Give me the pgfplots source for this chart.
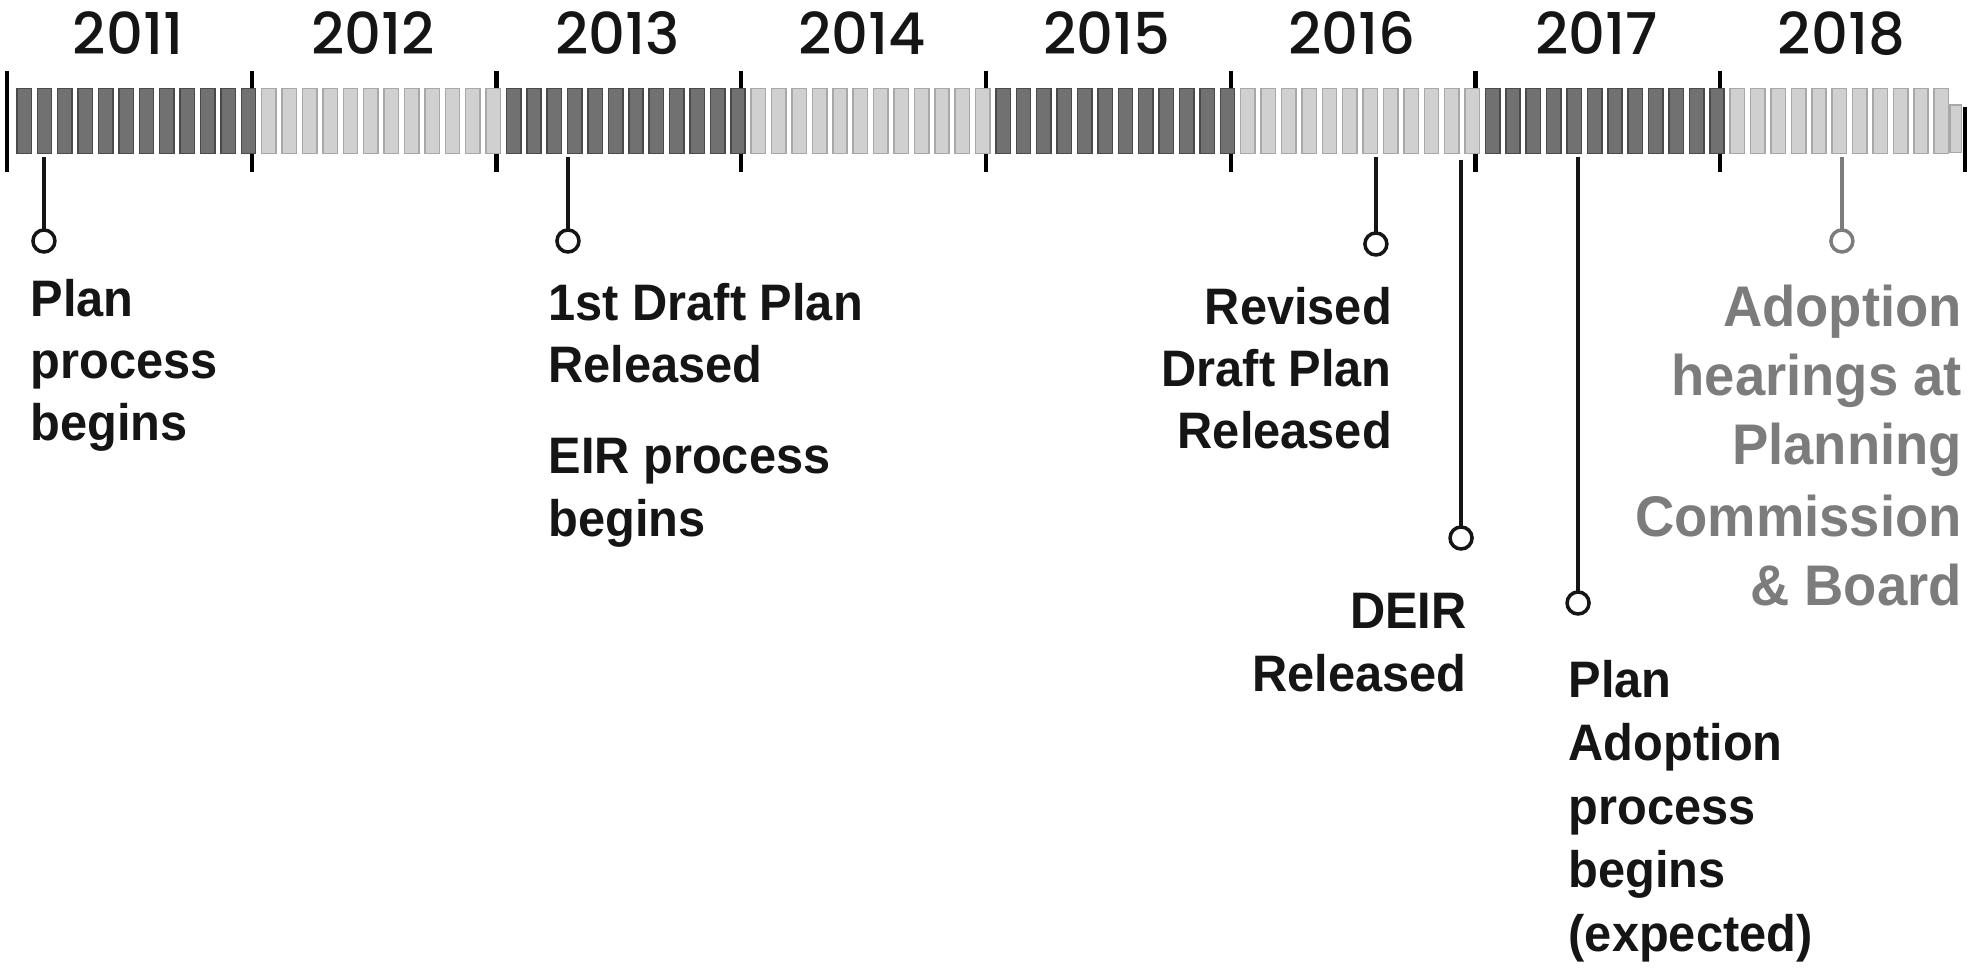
\documentclass[border=0pt]{standalone}
\usepackage{pgfplots}
\pgfplotsset{compat=1.18}
\usepackage{fontspec}
\setmainfont{Liberation Sans}
\newfontfamily\labfont{Liberation Sans}[FakeStretch=0.95]
\IfFontExistsTF{Poppins Medium}{%
  \newfontfamily\yearfont{Poppins Medium}}{%
  \newfontfamily\yearfont{Poppins}[FakeBold=1.0]}
\definecolor{darkbar}{HTML}{717171}
\definecolor{darkedge}{HTML}{4A4A4A}
\definecolor{lightbar}{HTML}{D0D0D0}
\definecolor{lightedge}{HTML}{A8A8A8}
\definecolor{txt}{HTML}{151515}
\definecolor{graytxt}{HTML}{7C7C7C}
\newcommand\lab{\labfont\bfseries\fontsize{14.6}{17}\selectfont}
\newcommand\labbig{\labfont\bfseries\fontsize{16.3}{19}\selectfont}
\newcommand\yr{\yearfont\fontsize{16.4}{18}\selectfont}
\begin{document}
\begin{tikzpicture}
\begin{axis}[
  scale only axis, width=19.86cm, height=9.73cm,
  xmin=2010.9714, xmax=2019.0858,
  ymin=0, ymax=973, y dir=reverse,
  hide axis, clip=false, unbounded coords=jump,
]
% dark months (2011, 2013, 2015, 2017)
\addplot[only marks, mark=square*, mark size=0.72mm,
  mark options={fill=darkbar, draw=darkedge, line width=0.15mm, yscale=4.5}]
coordinates {
(2011.0700,121) (2011.1533,121) (2011.2367,121) (2011.3200,121) (2011.4033,121) (2011.4867,121)
(2011.5700,121) (2011.6533,121) (2011.7367,121) (2011.8200,121) (2011.9033,121) (2011.9867,121)
(2013.0700,121) (2013.1533,121) (2013.2367,121) (2013.3200,121) (2013.4033,121) (2013.4867,121)
(2013.5700,121) (2013.6533,121) (2013.7367,121) (2013.8200,121) (2013.9033,121) (2013.9867,121)
(2015.0700,121) (2015.1533,121) (2015.2367,121) (2015.3200,121) (2015.4033,121) (2015.4867,121)
(2015.5700,121) (2015.6533,121) (2015.7367,121) (2015.8200,121) (2015.9033,121) (2015.9867,121)
(2017.0700,121) (2017.1533,121) (2017.2367,121) (2017.3200,121) (2017.4033,121) (2017.4867,121)
(2017.5700,121) (2017.6533,121) (2017.7367,121) (2017.8200,121) (2017.9033,121) (2017.9867,121)
};
% light months (2012, 2014, 2016, 2018)
\addplot[only marks, mark=square*, mark size=0.72mm,
  mark options={fill=lightbar, draw=lightedge, line width=0.15mm, yscale=4.5}]
coordinates {
(2012.0700,121) (2012.1533,121) (2012.2367,121) (2012.3200,121) (2012.4033,121) (2012.4867,121)
(2012.5700,121) (2012.6533,121) (2012.7367,121) (2012.8200,121) (2012.9033,121) (2012.9867,121)
(2014.0700,121) (2014.1533,121) (2014.2367,121) (2014.3200,121) (2014.4033,121) (2014.4867,121)
(2014.5700,121) (2014.6533,121) (2014.7367,121) (2014.8200,121) (2014.9033,121) (2014.9867,121)
(2016.0700,121) (2016.1533,121) (2016.2367,121) (2016.3200,121) (2016.4033,121) (2016.4867,121)
(2016.5700,121) (2016.6533,121) (2016.7367,121) (2016.8200,121) (2016.9033,121) (2016.9867,121)
(2018.0700,121) (2018.1533,121) (2018.2367,121) (2018.3200,121) (2018.4033,121) (2018.4867,121)
(2018.5700,121) (2018.6533,121) (2018.7367,121) (2018.8200,121) (2018.9033,121)
};
\addplot[only marks, mark=square*, mark size=0.72mm,
  mark options={fill=lightbar, draw=lightedge, line width=0.15mm, yscale=3.3, xscale=0.8}]
coordinates {(2018.962,129)};
% year boundaries
\addplot[black, line width=0.42mm] coordinates {
(2011,71) (2011,172) (2011,nan)
(2012,71) (2012,172) (2012,nan)
(2013,71) (2013,172) (2013,nan)
(2014,71) (2014,172) (2014,nan)
(2015,71) (2015,172) (2015,nan)
(2016,71) (2016,172) (2016,nan)
(2017,71) (2017,172) (2017,nan)
(2018,71) (2018,172) (2018,nan)
(2019,107) (2019,172)
};
% stems
\addplot[txt, line width=0.35mm] coordinates {
(2011.151,157) (2011.151,230) (2011.151,nan)
(2013.292,157) (2013.292,230) (2013.292,nan)
(2016.593,157) (2016.593,233) (2016.593,nan)
(2016.941,160) (2016.941,527) (2016.941,nan)
(2017.419,157) (2017.419,592)
};
\addplot[graytxt, line width=0.35mm] coordinates {(2018.497,157) (2018.497,230)};
% circles
\addplot[only marks, mark=*, mark size=1.1mm,
  mark options={fill=white, draw=txt, line width=0.35mm}]
coordinates {(2011.151,241) (2013.292,241) (2016.593,244) (2016.941,538) (2017.419,603)};
\addplot[only marks, mark=*, mark size=1.1mm,
  mark options={fill=white, draw=graytxt, line width=0.35mm}]
coordinates {(2018.497,241)};
% year labels
\foreach \y in {2011,...,2018}{
  \edef\tmp{\noexpand\node[anchor=base, inner sep=0, font=\noexpand\yr, text=txt] at (axis cs:\y.495,55) {\y};}
  \tmp
}
% milestone labels
\begin{scope}[every node/.style={inner sep=0, font=\lab, text=txt}]
\node[anchor=base west] at (axis cs:2011.094,317) {Plan};
\node[anchor=base west] at (axis cs:2011.094,379) {process};
\node[anchor=base west] at (axis cs:2011.094,441) {begins};
\node[anchor=base west] at (axis cs:2013.210,321) {1st Draft Plan};
\node[anchor=base west] at (axis cs:2013.210,383) {Released};
\node[anchor=base west] at (axis cs:2013.210,474) {EIR process};
\node[anchor=base west] at (axis cs:2013.210,536) {begins};
\node[anchor=base east] at (axis cs:2016.661,325) {Revised};
\node[anchor=base east] at (axis cs:2016.661,387) {Draft Plan};
\node[anchor=base east] at (axis cs:2016.661,449) {Released};
\node[anchor=base east] at (axis cs:2016.967,629) {DEIR};
\node[anchor=base east] at (axis cs:2016.967,691) {Released};
\node[anchor=base west] at (axis cs:2017.378,697) {Plan};
\node[anchor=base west] at (axis cs:2017.378,760) {Adoption};
\node[anchor=base west] at (axis cs:2017.378,824) {process};
\node[anchor=base west] at (axis cs:2017.378,887) {begins};
\node[anchor=base west] at (axis cs:2017.378,951) {(expected)};
\end{scope}
\begin{scope}[every node/.style={inner sep=0, font=\labbig, text=graytxt, anchor=base east}]
\node at (axis cs:2018.990,327) {Adoption};
\node at (axis cs:2018.990,396) {hearings at};
\node at (axis cs:2018.990,465) {Planning};
\node at (axis cs:2018.990,536) {Commission};
\node at (axis cs:2018.990,605) {\& Board};
\end{scope}
\end{axis}
\pgfresetboundingbox
\path (current axis.south west) rectangle (current axis.north east);
\end{tikzpicture}
\end{document}
